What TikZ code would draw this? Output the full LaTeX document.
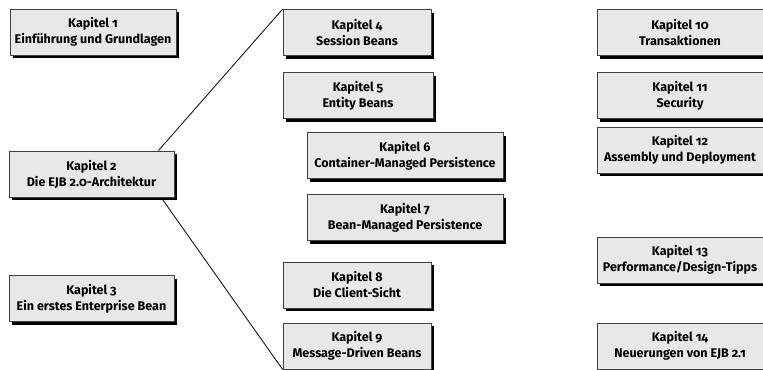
\documentclass[tikz,border=0pt]{standalone}
\usepackage{fontspec}
\setmainfont{Fira Sans}[Numbers=OldStyle]
\usetikzlibrary{shadows}

\begin{document}
\begin{tikzpicture}[x=0.75pt, y=-0.75pt, every node/.style={font=\bfseries\fontsize{9.4}{12}\selectfont},
	kap/.style={draw=black!75, fill=black!9, line width=0.6pt, align=center, inner sep=0pt,
		minimum height=34.5pt, minimum width=#1,
		general shadow={fill=black, shadow xshift=2.25pt, shadow yshift=-2.25pt}}]
	\useasboundingbox (0,0) rectangle (763,369);
	% left column
	\node[kap=124.5pt] (k1) at (93,32) {Kapitel 1\\Einführung und Grundlagen};
	\node[kap=123.75pt] (k2) at (91.5,174) {Kapitel 2\\Die EJB 2.0-Architektur};
	\node[kap=123.75pt] (k3) at (91.5,298.5) {Kapitel 3\\Ein erstes Enterprise Bean};
	% middle column
	\node[kap=111pt] (k4) at (357,32.5) {Kapitel 4\\Session Beans};
	\node[kap=112.5pt] (k5) at (358,95.5) {Kapitel 5\\Entity Beans};
	\node[kap=147pt] (k6) at (405,155.5) {Kapitel 6\\Container-Managed Persistence};
	\node[kap=147pt] (k7) at (405,217.5) {Kapitel 7\\Bean-Managed Persistence};
	\node[kap=111pt] (k8) at (357,285) {Kapitel 8\\Die Client-Sicht};
	\node[kap=111pt] (k9) at (357,346) {Kapitel 9\\Message-Driven Beans};
	% right column
	\node[kap=124.5pt] (k10) at (680,32.5) {Kapitel 10\\Transaktionen};
	\node[kap=124.5pt] (k11) at (680,95.5) {Kapitel 11\\Security};
	\node[kap=124.5pt] (k12) at (680,150) {Kapitel 12\\Assembly und Deployment};
	\node[kap=124.5pt] (k13) at (680,260) {Kapitel 13\\Performance/Design-Tipps};
	\node[kap=124.5pt] (k14) at (680,346) {Kapitel 14\\Neuerungen von EJB 2.1};
	% fan from chapter 2
	\draw[line width=0.6pt] ([xshift=-12pt]k2.north east) -- (k4.north west);
	\draw[line width=0.6pt] ([xshift=-10pt]k2.south east) -- (k9.south west);
\end{tikzpicture}
\end{document}
